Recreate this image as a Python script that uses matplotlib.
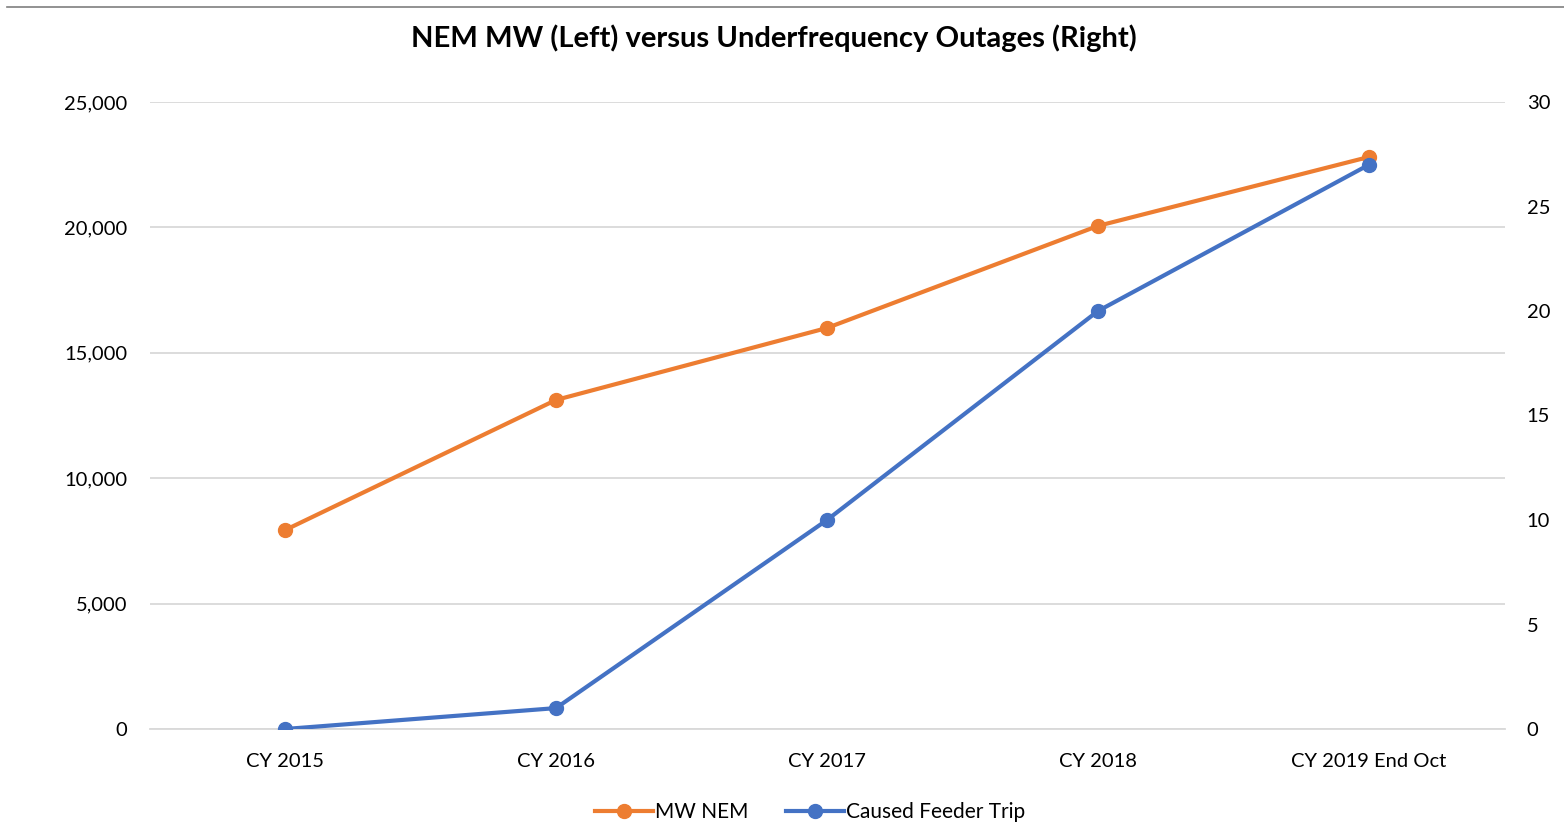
import matplotlib.pyplot as plt
from matplotlib.lines import Line2D
from matplotlib.ticker import FuncFormatter

# chart data
categories = ['CY 2015', 'CY 2016', 'CY 2017', 'CY 2018', 'CY 2019 End Oct']
mw_nem = [7930, 13120, 15990, 20060, 22810]
feeder_trips = [0, 1, 10, 20, 27]

left_ticks = [0, 5000, 10000, 15000, 20000, 25000]
right_ticks = [0, 5, 10, 15, 20, 25, 30]

orange = '#ED7D31'
blue = '#4472C4'

plt.rcParams['font.family'] = ['Lato', 'DejaVu Sans']

fig = plt.figure(figsize=(15.64, 8.27), dpi=100)
ax = fig.add_axes([149.5 / 1564, 1 - 729 / 827, 1355 / 1564, 627 / 827])
ax2 = ax.twinx()

x = list(range(len(categories)))

ax.plot(x, mw_nem, color=orange, lw=3, marker='o', ms=10, zorder=3)
ax2.plot(x, feeder_trips, color=blue, lw=3, marker='o', ms=10, zorder=3)

ax.set_xlim(-0.5, len(categories) - 0.5)
ax.set_ylim(0, 25000)
ax2.set_ylim(0, 30)
ax.set_yticks(left_ticks)
ax2.set_yticks(right_ticks)
ax.yaxis.set_major_formatter(FuncFormatter(lambda v, p: f'{int(v):,}'))
ax.set_xticks(x)
ax.set_xticklabels(categories)

ax.grid(axis='y', color='#D9D9D9', lw=1.3)
ax.set_axisbelow(True)
for a in (ax, ax2):
    for s in a.spines.values():
        s.set_visible(False)
    a.tick_params(length=0, labelsize=14.5, colors='#000000')
ax.spines['bottom'].set_visible(True)
ax.spines['bottom'].set_color('#D9D9D9')
ax.spines['bottom'].set_linewidth(1.3)
ax.tick_params(axis='y', pad=16)
ax2.tick_params(axis='y', pad=16)
ax.tick_params(axis='x', pad=17)

fig.text(0.4946, 1 - 38 / 827, 'NEM MW (Left) versus Underfrequency Outages (Right)',
         ha='center', va='center', fontsize=21, fontweight='bold')

# thin border line across the top
fig.add_artist(Line2D([7 / 1564, 1], [1 - 7 / 827, 1 - 7 / 827], color='#7F7F7F', lw=1.2))

handles = [Line2D([], [], color=orange, lw=3, marker='o', ms=10),
           Line2D([], [], color=blue, lw=3, marker='o', ms=10)]
fig.legend(handles, ['MW NEM', 'Caused Feeder Trip'], loc='center',
           bbox_to_anchor=(0.518, 1 - 812 / 827), ncol=2, frameon=False,
           fontsize=15, handlelength=2.8, handletextpad=0.1, columnspacing=1.8)

plt.savefig('out.png', dpi=100)
